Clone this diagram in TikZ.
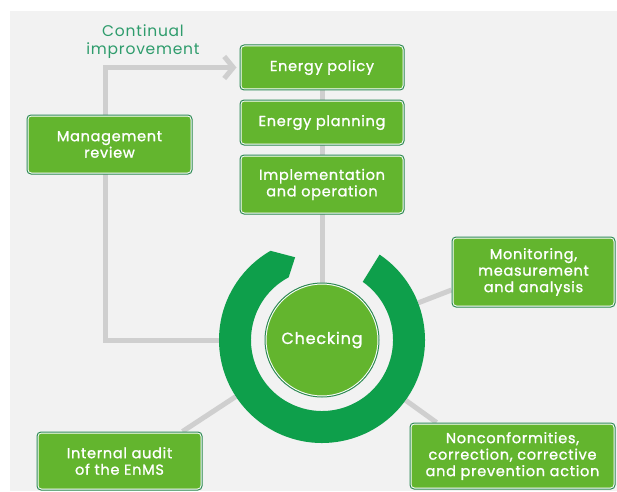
\documentclass[tikz,border=0pt]{standalone}
\usepackage{fontspec}
\setmainfont{Poppins}
\newfontfamily\boxfont{Poppins}[FakeBold=1.2, LetterSpace=5]
\newfontfamily\notefont{Poppins}[LetterSpace=5]
\usepackage{xcolor}
\usepackage{tikz}
\usetikzlibrary{positioning,arrows.meta,backgrounds}

\definecolor{bggray}{HTML}{F2F2F2}
\definecolor{linegray}{HTML}{CFCFCF}
\definecolor{boxgreen}{HTML}{63B52E}
\definecolor{edgegreen}{HTML}{2E8A55}
\definecolor{ringgreen}{HTML}{0E9F4B}
\definecolor{tealtext}{HTML}{2E9C6C}

\begin{document}
\begin{tikzpicture}[
    x=1pt, y=1pt,
    node distance=9pt,
    stage/.style={rectangle, rounded corners=4pt, draw=edgegreen, line width=1pt, fill=boxgreen,
        text=white, align=center, inner sep=0pt, minimum width=164pt, minimum height=45pt,
        font=\boxfont\fontsize{14.5}{16.5}\selectfont,
        path picture={\draw[white, line width=3pt, rounded corners=4pt]
            (path picture bounding box.south west) rectangle (path picture bounding box.north east);}},
    link/.style={draw=linegray, line width=5pt},
    arrow/.style={link, -{Straight Barb[length=9pt, width=22pt]}, shorten >=3pt}
]
    \useasboundingbox (0,0) rectangle (617,491);

    % Plan steps (stacked vertically)
    \node [stage] (policy) at (322,423.5) {Energy policy};
    \node [stage, below=of policy] (planning) {Energy planning};
    \node [stage, below=of planning, minimum height=59pt] (implementation) {Implementation\\and operation};

    % Other steps
    \node [stage, minimum width=165pt, minimum height=59pt] (review) at (109.5,346.5) {Management\\review};
    \node [stage, minimum width=163pt, minimum height=70pt] (monitoring) at (533.5,219) {Monitoring,\\measurement\\and analysis};
    \node [stage, minimum width=205pt, minimum height=66pt] (nonconf) at (512.5,35) {Nonconformities,\\correction, corrective\\and prevention action};
    \node [stage, minimum width=165pt, minimum height=58pt] (audit) at (119.5,30) {Internal audit\\of the EnMS};

    \node [text=tealtext, align=center, font=\notefont\fontsize{15.5}{18}\selectfont] (continual) at (143,449) {Continual\\improvement};

    %--- Checking circle and ring ---
    \node [circle, draw=edgegreen, line width=1pt, fill=boxgreen, text=white, minimum size=114pt, inner sep=0pt,
        font=\boxfont\fontsize{16}{18}\selectfont,
        path picture={\draw[white, line width=3pt] (path picture bounding box.center) circle[radius=57pt];}]
        (checking) at (322,151) {Checking};
    \node [circle, minimum size=206pt, inner sep=0pt] (ring) at (checking) {};
    \fill [ringgreen] ([shift={(56:103pt)}]checking.center) arc[start angle=56, end angle=-240, radius=103pt]
        -- ([shift={(108:87pt)}]checking.center) -- ([shift={(118:71pt)}]checking.center)
        arc[start angle=-242, end angle=55, radius=71pt] -- cycle;

    %--- Connectors ---
    \begin{scope}[on background layer]
        \fill [bggray] (10,0) rectangle (617,480);
        \draw [link] (policy) -- (checking);
        \draw [arrow] (ring.west) -| ([xshift=-4pt]review.center) |- (policy.west);
        \draw [link] (ring) -- ([yshift=-18pt]monitoring.west);
        \draw [link] (ring) -- ([xshift=27pt]nonconf.north west);
        \draw [link] (ring) -- ([xshift=-20pt]audit.north east);
    \end{scope}

\end{tikzpicture}
\end{document}
